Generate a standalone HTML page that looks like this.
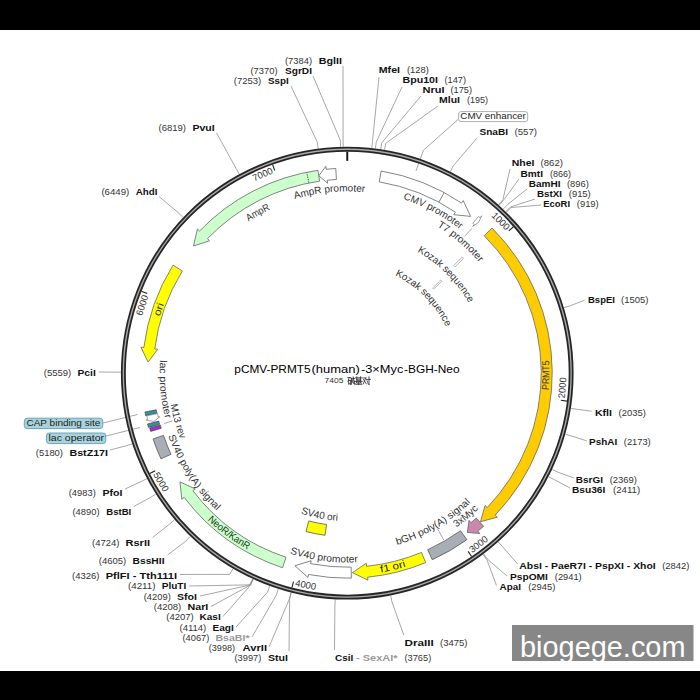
<!DOCTYPE html>
<html><head><meta charset="utf-8"><style>
html,body{margin:0;padding:0;background:#fff;width:700px;height:700px;overflow:hidden}
svg{display:block}
text{font-family:"Liberation Sans",sans-serif}
</style></head><body>
<svg width="700" height="700" viewBox="0 0 700 700" font-family="Liberation Sans, sans-serif"><rect x="0" y="0" width="700" height="700" fill="#fff"/>
<rect x="0" y="0" width="700" height="30" fill="#000"/>
<rect x="0" y="671" width="700" height="29" fill="#000"/>
<polyline points="343,66 343.1,140.24 343.21,146.74" fill="none" stroke="#8a8a8a" stroke-width="0.75"/>
<polyline points="313,76 340.33,140.3 340.52,146.8" fill="none" stroke="#8a8a8a" stroke-width="0.75"/>
<polyline points="291,86 317.28,142.14 318.12,148.58" fill="none" stroke="#8a8a8a" stroke-width="0.75"/>
<polyline points="216.5,133 236.11,168.41 239.21,174.13" fill="none" stroke="#8a8a8a" stroke-width="0.75"/>
<polyline points="159,196.5 178.3,212.74 183.02,217.22" fill="none" stroke="#8a8a8a" stroke-width="0.75"/>
<polyline points="98.75,372 114.25,372.16 120.75,372.19" fill="none" stroke="#8a8a8a" stroke-width="0.75"/>
<polyline points="110,450 125.87,445.86 132.04,443.83" fill="none" stroke="#8a8a8a" stroke-width="0.75"/>
<polyline points="125,489 141.04,481.68 146.8,478.65" fill="none" stroke="#8a8a8a" stroke-width="0.75"/>
<polyline points="133.75,506.5 150.24,497.6 155.73,494.13" fill="none" stroke="#8a8a8a" stroke-width="0.75"/>
<polyline points="152.5,537.5 169.65,524.02 174.61,519.82" fill="none" stroke="#8a8a8a" stroke-width="0.75"/>
<polyline points="167.5,555 185.76,541.16 190.26,536.47" fill="none" stroke="#8a8a8a" stroke-width="0.75"/>
<polyline points="180,574.5 229.65,574.35 232.93,568.74" fill="none" stroke="#8a8a8a" stroke-width="0.75"/>
<polyline points="189,586 249.81,584.85 252.53,578.94" fill="none" stroke="#8a8a8a" stroke-width="0.75"/>
<polyline points="200,596 250.17,585.01 252.88,579.1" fill="none" stroke="#8a8a8a" stroke-width="0.75"/>
<polyline points="211,606.5 250.35,585.09 253.05,579.18" fill="none" stroke="#8a8a8a" stroke-width="0.75"/>
<polyline points="223,616.5 250.53,585.18 253.23,579.26" fill="none" stroke="#8a8a8a" stroke-width="0.75"/>
<polyline points="236,627 267.54,592.14 269.76,586.03" fill="none" stroke="#8a8a8a" stroke-width="0.75"/>
<polyline points="252,637 276.33,595.14 278.31,588.95" fill="none" stroke="#8a8a8a" stroke-width="0.75"/>
<polyline points="269,647 289.44,598.91 291.05,592.62" fill="none" stroke="#8a8a8a" stroke-width="0.75"/>
<polyline points="289,651 289.63,598.96 291.24,592.67" fill="none" stroke="#8a8a8a" stroke-width="0.75"/>
<polyline points="379,77 372.51,141.57 371.8,148.03" fill="none" stroke="#8a8a8a" stroke-width="0.75"/>
<polyline points="402,87 376.24,142.01 375.43,148.46" fill="none" stroke="#8a8a8a" stroke-width="0.75"/>
<polyline points="421,96 381.72,142.76 380.76,149.19" fill="none" stroke="#8a8a8a" stroke-width="0.75"/>
<polyline points="438,106 385.63,143.38 384.56,149.79" fill="none" stroke="#8a8a8a" stroke-width="0.75"/>
<polyline points="477,138 453.32,165.74 450.36,171.53" fill="none" stroke="#8a8a8a" stroke-width="0.75"/>
<polyline points="510,169 502.88,199.79 498.53,204.63" fill="none" stroke="#8a8a8a" stroke-width="0.75"/>
<polyline points="519,179 503.46,200.32 499.11,205.15" fill="none" stroke="#8a8a8a" stroke-width="0.75"/>
<polyline points="527,189 507.81,204.36 503.33,209.07" fill="none" stroke="#8a8a8a" stroke-width="0.75"/>
<polyline points="535,199 510.51,206.97 505.96,211.6" fill="none" stroke="#8a8a8a" stroke-width="0.75"/>
<polyline points="541,205 511.08,207.52 506.51,212.14" fill="none" stroke="#8a8a8a" stroke-width="0.75"/>
<polyline points="584.6,300.2 570.27,305.73 564.04,307.61" fill="none" stroke="#8a8a8a" stroke-width="0.75"/>
<polyline points="591.6,411.2 577.42,409.38 571,408.37" fill="none" stroke="#8a8a8a" stroke-width="0.75"/>
<polyline points="586.7,440.8 571.62,436.02 565.36,434.27" fill="none" stroke="#8a8a8a" stroke-width="0.75"/>
<polyline points="574,478 558.13,472.3 552.24,469.53" fill="none" stroke="#8a8a8a" stroke-width="0.75"/>
<polyline points="570,488 554.46,479.75 548.68,476.78" fill="none" stroke="#8a8a8a" stroke-width="0.75"/>
<polyline points="517.6,564 502.65,546.8 498.32,541.96" fill="none" stroke="#8a8a8a" stroke-width="0.75"/>
<polyline points="507,576 487.54,559.23 483.63,554.04" fill="none" stroke="#8a8a8a" stroke-width="0.75"/>
<polyline points="496.5,585.5 486.91,559.71 483.01,554.5" fill="none" stroke="#8a8a8a" stroke-width="0.75"/>
<polyline points="403.75,635 391.95,601.87 390.7,595.49" fill="none" stroke="#8a8a8a" stroke-width="0.75"/>
<polyline points="334.5,650 334.9,605.87 335.24,599.38" fill="none" stroke="#8a8a8a" stroke-width="0.75"/>
<polyline points="458,119.5 423.4,150.3 416,170.9" fill="none" stroke="#8a8a8a" stroke-width="0.75"/>
<polyline points="103,423 137.5,414.5" fill="none" stroke="#8a8a8a" stroke-width="0.75"/>
<polyline points="106,436 140,427.5" fill="none" stroke="#8a8a8a" stroke-width="0.75"/>
<polyline points="164,423.5 172.4,421" fill="none" stroke="#8a8a8a" stroke-width="0.75"/>
<polyline points="437.5,528.75 443.75,540" fill="none" stroke="#8a8a8a" stroke-width="0.75"/>
<polyline points="464.4,236.4 472.1,228.3" fill="none" stroke="#8a8a8a" stroke-width="0.75"/>
<circle cx="347.25" cy="373.2" r="223.9" fill="none" stroke="#262626" stroke-width="4.9"/>
<circle cx="347.25" cy="373.2" r="223.9" fill="none" stroke="#aaaaaa" stroke-width="1.35"/>
<line x1="347.25" y1="151.7" x2="347.25" y2="160.9" stroke="#1c1c1c" stroke-width="2"/>
<line x1="513.44" y1="226.77" x2="508.79" y2="230.86" stroke="#222" stroke-width="1.1"/>
<text x="0" y="0" transform="translate(500.91,220.96) rotate(45.27)" text-anchor="middle" dy="0.36em" font-size="9.5" fill="#333" font-weight="normal" textLength="21" lengthAdjust="spacingAndGlyphs">1000</text>
<line x1="566.99" y1="401.08" x2="560.84" y2="400.3" stroke="#222" stroke-width="1.1"/>
<text x="0" y="0" transform="translate(562.16,387.78) rotate(-86.12)" text-anchor="middle" dy="0.36em" font-size="9.5" fill="#333" font-weight="normal" textLength="21" lengthAdjust="spacingAndGlyphs">2000</text>
<line x1="471.6" y1="556.5" x2="468.12" y2="551.37" stroke="#222" stroke-width="1.1"/>
<text x="0" y="0" transform="translate(478.38,544.08) rotate(-37.5)" text-anchor="middle" dy="0.36em" font-size="9.5" fill="#333" font-weight="normal" textLength="21" lengthAdjust="spacingAndGlyphs">3000</text>
<line x1="291.93" y1="587.68" x2="293.48" y2="581.68" stroke="#222" stroke-width="1.1"/>
<text x="0" y="0" transform="translate(305.73,584.56) rotate(11.11)" text-anchor="middle" dy="0.36em" font-size="9.5" fill="#333" font-weight="normal" textLength="21" lengthAdjust="spacingAndGlyphs">4000</text>
<line x1="149.75" y1="473.49" x2="155.28" y2="470.68" stroke="#222" stroke-width="1.1"/>
<text x="0" y="0" transform="translate(161.22,481.78) rotate(59.73)" text-anchor="middle" dy="0.36em" font-size="9.5" fill="#333" font-weight="normal" textLength="21" lengthAdjust="spacingAndGlyphs">5000</text>
<line x1="141.44" y1="291.32" x2="147.2" y2="293.61" stroke="#222" stroke-width="1.1"/>
<text x="0" y="0" transform="translate(141.94,305.12) rotate(-71.66)" text-anchor="middle" dy="0.36em" font-size="9.5" fill="#333" font-weight="normal" textLength="21" lengthAdjust="spacingAndGlyphs">6000</text>
<line x1="272.62" y1="164.65" x2="274.71" y2="170.49" stroke="#222" stroke-width="1.1"/>
<text x="0" y="0" transform="translate(262.6,174.15) rotate(-23.04)" text-anchor="middle" dy="0.36em" font-size="9.5" fill="#333" font-weight="normal" textLength="21" lengthAdjust="spacingAndGlyphs">7000</text>
<path d="M335.81,168.52 A205,205 0 0,0 326.18,169.29 L325.87,166.3 L318.8,175.74 L327.62,183.21 L327.31,180.23 A194,194 0 0,1 336.42,179.5 Z" fill="#ffffff" stroke="#666" stroke-width="0.8" />
<path d="M318.01,170.3 A205,205 0 0,0 199.54,231.05 L197.38,228.97 L193.53,246.03 L209.62,240.76 L207.46,238.68 A194,194 0 0,1 319.58,181.18 Z" fill="#ccffcc" stroke="#666" stroke-width="0.8" />
<path d="M173.02,265.17 A205,205 0 0,0 143.87,347.51 L140.89,347.13 L148.06,362.06 L157.76,349.26 L154.78,348.89 A194,194 0 0,1 182.37,270.97 Z" fill="#ffff00" stroke="#666" stroke-width="0.8" />
<path d="M145.68,415.68 A206,206 0 0,1 144.93,411.98 L156.23,409.81 A194.5,194.5 0 0,0 156.93,413.31 Z" fill="#3a8fa0" stroke="#333" stroke-width="0.6" />
<path d="M146.73,415.82 A205,205 0 0,0 147.58,419.66 L146.12,420 L153.68,421.46 L159.76,416.83 L158.3,417.17 A194,194 0 0,1 157.49,413.53 Z" fill="#ffffff" stroke="#666" stroke-width="0.6" />
<path d="M148.5,427.38 A206,206 0 0,1 147.59,423.91 L158.73,421.08 A194.5,194.5 0 0,0 159.6,424.36 Z" fill="#3a8fa0" stroke="#333" stroke-width="0.6" />
<path d="M150.69,431.42 A205,205 0 0,1 149.71,427.98 L160.31,425.04 A194,194 0 0,0 161.24,428.3 Z" fill="#9933cc" stroke="#333" stroke-width="0.6" />
<path d="M161.01,458.86 A205,205 0 0,1 153.07,438.93 L163.49,435.4 A194,194 0 0,0 171,454.27 Z" fill="#a9aeb6" stroke="#555" stroke-width="0.8" />
<path d="M282.54,567.72 A205,205 0 0,1 184.18,497.43 L181.79,499.25 L179.94,481.86 L195.31,488.94 L192.93,490.76 A194,194 0 0,0 286.01,557.28 Z" fill="#ccffcc" stroke="#666" stroke-width="0.8" />
<path d="M351.36,578.16 A205,205 0 0,1 308.49,574.5 L307.92,577.45 L294.94,565.72 L311.13,560.75 L310.57,563.7 A194,194 0 0,0 351.14,567.16 Z" fill="#ffffff" stroke="#666" stroke-width="0.8" />
<path d="M425.7,562.6 A205,205 0 0,1 367.61,577.19 L367.91,580.17 L352.47,572.63 L366.22,563.26 L366.52,566.24 A194,194 0 0,0 421.49,552.43 Z" fill="#ffff00" stroke="#666" stroke-width="0.8" />
<path d="M466.88,539.68 A205,205 0 0,1 432.26,559.74 L427.7,549.73 A194,194 0 0,0 460.46,530.74 Z" fill="#a9aeb6" stroke="#555" stroke-width="0.8" />
<path d="M483.62,526.26 A205,205 0 0,1 477.92,531.16 L479.83,533.47 L467.31,532.53 L469,520.37 L470.91,522.68 A194,194 0 0,0 476.3,518.05 Z" fill="#cc88aa" stroke="#666" stroke-width="0.8" />
<path d="M491.95,227.99 A205,205 0 0,1 495.21,515.09 L497.38,517.17 L480.48,521.69 L485.11,505.4 L487.27,507.48 A194,194 0 0,0 484.19,235.78 Z" fill="#ffcc00" stroke="#666" stroke-width="0.8" />
<path d="M381.08,171.01 A205,205 0 0,1 461.59,203.05 L463.26,200.56 L470.62,216.42 L453.78,214.67 L455.45,212.18 A194,194 0 0,0 379.27,181.86 Z" fill="#ffffff" stroke="#666" stroke-width="0.8" />
<polyline points="438.92,202.23 444.12,192.53" fill="none" stroke="#666" stroke-width="0.8"/>
<line x1="308.81" y1="182.54" x2="306.83" y2="172.73" stroke="#222" stroke-width="0.9" stroke-dasharray="1.2,1.2"/>
<path d="M478.56,216.43 A204.5,204.5 0 0,1 480.06,217.7 L481.69,215.8 L478.59,222.37 L472.59,226.44 L474.22,224.54 A195.5,195.5 0 0,0 472.78,223.33 Z" fill="#ffffff" stroke="#666" stroke-width="0.6" />
<path d="M325.05,535.29 A163.6,163.6 0 0,1 306.01,531.52 L308.76,520.97 A152.7,152.7 0 0,0 326.53,524.49 Z" fill="#ffff00" stroke="#555" stroke-width="0.8" />
<path d="M462.26,256.98 A163.5,163.5 0 0,1 463.67,258.4 L455.12,266.82 A151.5,151.5 0 0,0 453.81,265.51 Z" fill="#ffffff" stroke="#888" stroke-width="0.6" />
<path d="M440.75,280.02 A132,132 0 0,1 441.88,281.17 L433.64,289.19 A120.5,120.5 0 0,0 432.6,288.14 Z" fill="#ffffff" stroke="#888" stroke-width="0.6" />
<path id="tp1" d="M165.89,359.24 A181.9,181.9 0 0,1 522.45,324.28" fill="none" stroke="none"/>
<text font-size="10" fill="#333" font-weight="normal"><textPath href="#tp1" startOffset="50%" text-anchor="middle" textLength="71" lengthAdjust="spacingAndGlyphs">AmpR promoter</textPath></text>
<path id="tp2" d="M176.31,432.39 A180.9,180.9 0 0,1 487.64,259.11" fill="none" stroke="none"/>
<text font-size="10" fill="#333" font-weight="normal"><textPath href="#tp2" startOffset="50%" text-anchor="middle" textLength="25" lengthAdjust="spacingAndGlyphs">AmpR</textPath></text>
<path id="tp3" d="M253.17,545.03 A195.9,195.9 0 0,1 376.88,179.55" fill="none" stroke="none"/>
<text font-size="10" fill="#333" font-weight="normal"><textPath href="#tp3" startOffset="50%" text-anchor="middle" textLength="13" lengthAdjust="spacingAndGlyphs">ori</textPath></text>
<path id="tp4" d="M298.7,191.99 A187.6,187.6 0 0,0 330.9,560.09" fill="none" stroke="none"/>
<text font-size="10" fill="#333" font-weight="normal"><textPath href="#tp4" startOffset="50%" text-anchor="middle" textLength="59" lengthAdjust="spacingAndGlyphs">lac promoter</textPath></text>
<path id="tp5" d="M269.13,211.59 A179.5,179.5 0 0,0 365.39,551.78" fill="none" stroke="none"/>
<text font-size="10" fill="#333" font-weight="normal"><textPath href="#tp5" startOffset="50%" text-anchor="middle" textLength="36" lengthAdjust="spacingAndGlyphs">M13 rev</textPath></text>
<path id="tp6" d="M218.19,234.31 A189.6,189.6 0 0,0 421.03,547.86" fill="none" stroke="none"/>
<text font-size="10" fill="#333" font-weight="normal"><textPath href="#tp6" startOffset="50%" text-anchor="middle" textLength="90" lengthAdjust="spacingAndGlyphs">SV40 poly(A) signal</textPath></text>
<path id="tp7" d="M165.94,282.8 A202.6,202.6 0 0,0 486.71,520.16" fill="none" stroke="none"/>
<text font-size="10" fill="#1a3a1a" font-weight="normal"><textPath href="#tp7" startOffset="50%" text-anchor="middle" textLength="50" lengthAdjust="spacingAndGlyphs">NeoR/KanR</textPath></text>
<path id="tp8" d="M158.18,382.45 A189.3,189.3 0 0,0 528.08,429.18" fill="none" stroke="none"/>
<text font-size="10" fill="#333" font-weight="normal"><textPath href="#tp8" startOffset="50%" text-anchor="middle" textLength="69" lengthAdjust="spacingAndGlyphs">SV40 promoter</textPath></text>
<path id="tp9" d="M199.37,370.62 A147.9,147.9 0 0,0 485.33,426.2" fill="none" stroke="none"/>
<text font-size="10" fill="#333" font-weight="normal"><textPath href="#tp9" startOffset="50%" text-anchor="middle" textLength="38" lengthAdjust="spacingAndGlyphs">SV40 ori</textPath></text>
<path id="tp10" d="M161.49,452.82 A202.1,202.1 0 0,0 549.03,361.92" fill="none" stroke="none"/>
<text font-size="10" fill="#222" font-weight="normal"><textPath href="#tp10" startOffset="50%" text-anchor="middle" textLength="26" lengthAdjust="spacingAndGlyphs">f1 ori</textPath></text>
<path id="tp11" d="M210.08,487.89 A178.8,178.8 0 0,0 515.37,312.34" fill="none" stroke="none"/>
<text font-size="10" fill="#333" font-weight="normal"><textPath href="#tp11" startOffset="50%" text-anchor="middle" textLength="86" lengthAdjust="spacingAndGlyphs">bGH poly(A) signal</textPath></text>
<path id="tp12" d="M224.82,517.05 A188.9,188.9 0 0,0 511.5,279.89" fill="none" stroke="none"/>
<text font-size="10" fill="#333" font-weight="normal"><textPath href="#tp12" startOffset="50%" text-anchor="middle" textLength="29" lengthAdjust="spacingAndGlyphs">3xMyc</textPath></text>
<path id="tp13" d="M380.26,572.59 A202.1,202.1 0 0,0 384.43,174.55" fill="none" stroke="none"/>
<text font-size="10" fill="#333" font-weight="normal"><textPath href="#tp13" startOffset="50%" text-anchor="middle" textLength="30" lengthAdjust="spacingAndGlyphs">PRMT5</textPath></text>
<path id="tp14" d="M203.01,260.91 A182.8,182.8 0 0,1 521.2,429.38" fill="none" stroke="none"/>
<text font-size="10" fill="#333" font-weight="normal"><textPath href="#tp14" startOffset="50%" text-anchor="middle" textLength="65" lengthAdjust="spacingAndGlyphs">CMV promoter</textPath></text>
<path id="tp15" d="M238.18,239.94 A172.2,172.2 0 0,1 495.32,461.12" fill="none" stroke="none"/>
<text font-size="10" fill="#333" font-weight="normal"><textPath href="#tp15" startOffset="50%" text-anchor="middle" textLength="56" lengthAdjust="spacingAndGlyphs">T7 promoter</textPath></text>
<path id="tp16" d="M266.72,258.19 A140.4,140.4 0 0,1 462.26,453.73" fill="none" stroke="none"/>
<text font-size="10" fill="#333" font-weight="normal"><textPath href="#tp16" startOffset="50%" text-anchor="middle" textLength="74" lengthAdjust="spacingAndGlyphs">Kozak sequence</textPath></text>
<path id="tp17" d="M285.41,283.56 A108.9,108.9 0 0,1 436.02,436.28" fill="none" stroke="none"/>
<text font-size="10" fill="#333" font-weight="normal"><textPath href="#tp17" startOffset="50%" text-anchor="middle" textLength="74" lengthAdjust="spacingAndGlyphs">Kozak sequence</textPath></text>
<text x="318.75" y="63.7" font-size="9.8" fill="#111" font-weight="bold" text-anchor="start" textLength="23.25" lengthAdjust="spacingAndGlyphs">BglII</text>
<text x="285" y="63.7" font-size="9" fill="#333" font-weight="normal" text-anchor="start" textLength="27" lengthAdjust="spacingAndGlyphs">(7384)</text>
<text x="285" y="73.75" font-size="9.8" fill="#111" font-weight="bold" text-anchor="start" textLength="27" lengthAdjust="spacingAndGlyphs">SgrDI</text>
<text x="250.5" y="73.75" font-size="9" fill="#333" font-weight="normal" text-anchor="start" textLength="27" lengthAdjust="spacingAndGlyphs">(7370)</text>
<text x="268" y="83.75" font-size="9.8" fill="#111" font-weight="bold" text-anchor="start" textLength="20.75" lengthAdjust="spacingAndGlyphs">SspI</text>
<text x="233.75" y="83.75" font-size="9" fill="#333" font-weight="normal" text-anchor="start" textLength="27.5" lengthAdjust="spacingAndGlyphs">(7253)</text>
<text x="192.4" y="131" font-size="9.8" fill="#111" font-weight="bold" text-anchor="start" textLength="22.2" lengthAdjust="spacingAndGlyphs">PvuI</text>
<text x="158.6" y="131" font-size="9" fill="#333" font-weight="normal" text-anchor="start" textLength="27.4" lengthAdjust="spacingAndGlyphs">(6819)</text>
<text x="135.7" y="195" font-size="9.8" fill="#111" font-weight="bold" text-anchor="start" textLength="21.7" lengthAdjust="spacingAndGlyphs">AhdI</text>
<text x="101.4" y="195" font-size="9" fill="#333" font-weight="normal" text-anchor="start" textLength="27.9" lengthAdjust="spacingAndGlyphs">(6449)</text>
<text x="77.5" y="376.25" font-size="9.8" fill="#111" font-weight="bold" text-anchor="start" textLength="18.25" lengthAdjust="spacingAndGlyphs">PciI</text>
<text x="43.75" y="376.25" font-size="9" fill="#333" font-weight="normal" text-anchor="start" textLength="27.5" lengthAdjust="spacingAndGlyphs">(5559)</text>
<text x="69.5" y="455.5" font-size="9.8" fill="#111" font-weight="bold" text-anchor="start" textLength="38.5" lengthAdjust="spacingAndGlyphs">BstZ17I</text>
<text x="35.75" y="455.5" font-size="9" fill="#333" font-weight="normal" text-anchor="start" textLength="27.25" lengthAdjust="spacingAndGlyphs">(5180)</text>
<text x="102.5" y="496.25" font-size="9.8" fill="#111" font-weight="bold" text-anchor="start" textLength="20" lengthAdjust="spacingAndGlyphs">PfoI</text>
<text x="68.75" y="496.25" font-size="9" fill="#333" font-weight="normal" text-anchor="start" textLength="27" lengthAdjust="spacingAndGlyphs">(4983)</text>
<text x="106.25" y="515" font-size="9.8" fill="#111" font-weight="bold" text-anchor="start" textLength="25" lengthAdjust="spacingAndGlyphs">BstBI</text>
<text x="72.5" y="515" font-size="9" fill="#333" font-weight="normal" text-anchor="start" textLength="27" lengthAdjust="spacingAndGlyphs">(4890)</text>
<text x="125.5" y="546.25" font-size="9.8" fill="#111" font-weight="bold" text-anchor="start" textLength="24.5" lengthAdjust="spacingAndGlyphs">RsrII</text>
<text x="92" y="546.25" font-size="9" fill="#333" font-weight="normal" text-anchor="start" textLength="27.5" lengthAdjust="spacingAndGlyphs">(4724)</text>
<text x="132.5" y="563.75" font-size="9.8" fill="#111" font-weight="bold" text-anchor="start" textLength="32" lengthAdjust="spacingAndGlyphs">BssHII</text>
<text x="98.75" y="563.75" font-size="9" fill="#333" font-weight="normal" text-anchor="start" textLength="27.5" lengthAdjust="spacingAndGlyphs">(4605)</text>
<text x="105.75" y="578.75" font-size="9.8" fill="#111" font-weight="bold" text-anchor="start" textLength="71.25" lengthAdjust="spacingAndGlyphs">PflFI - Tth111I</text>
<text x="72" y="578.75" font-size="9" fill="#333" font-weight="normal" text-anchor="start" textLength="27.5" lengthAdjust="spacingAndGlyphs">(4326)</text>
<text x="161.75" y="589.25" font-size="9.8" fill="#111" font-weight="bold" text-anchor="start" textLength="24.5" lengthAdjust="spacingAndGlyphs">PluTI</text>
<text x="128" y="589.25" font-size="9" fill="#333" font-weight="normal" text-anchor="start" textLength="27.5" lengthAdjust="spacingAndGlyphs">(4211)</text>
<text x="177" y="599.5" font-size="9.8" fill="#111" font-weight="bold" text-anchor="start" textLength="20" lengthAdjust="spacingAndGlyphs">SfoI</text>
<text x="143.75" y="599.5" font-size="9" fill="#333" font-weight="normal" text-anchor="start" textLength="27" lengthAdjust="spacingAndGlyphs">(4209)</text>
<text x="187.5" y="610" font-size="9.8" fill="#111" font-weight="bold" text-anchor="start" textLength="20.75" lengthAdjust="spacingAndGlyphs">NarI</text>
<text x="153.75" y="610" font-size="9" fill="#333" font-weight="normal" text-anchor="start" textLength="27.5" lengthAdjust="spacingAndGlyphs">(4208)</text>
<text x="199.5" y="620" font-size="9.8" fill="#111" font-weight="bold" text-anchor="start" textLength="21.25" lengthAdjust="spacingAndGlyphs">KasI</text>
<text x="166.25" y="620" font-size="9" fill="#333" font-weight="normal" text-anchor="start" textLength="27.5" lengthAdjust="spacingAndGlyphs">(4207)</text>
<text x="212.5" y="630.5" font-size="9.8" fill="#111" font-weight="bold" text-anchor="start" textLength="21.25" lengthAdjust="spacingAndGlyphs">EagI</text>
<text x="179.5" y="630.5" font-size="9" fill="#333" font-weight="normal" text-anchor="start" textLength="26.75" lengthAdjust="spacingAndGlyphs">(4114)</text>
<text x="215.5" y="640.5" font-size="9.8" fill="#999" font-weight="bold" text-anchor="start" textLength="34" lengthAdjust="spacingAndGlyphs">BsaBI*</text>
<text x="182.5" y="640.5" font-size="9" fill="#333" font-weight="normal" text-anchor="start" textLength="26.75" lengthAdjust="spacingAndGlyphs">(4067)</text>
<text x="242.5" y="650.5" font-size="9.8" fill="#111" font-weight="bold" text-anchor="start" textLength="24.5" lengthAdjust="spacingAndGlyphs">AvrII</text>
<text x="208.75" y="650.5" font-size="9" fill="#333" font-weight="normal" text-anchor="start" textLength="26.25" lengthAdjust="spacingAndGlyphs">(3998)</text>
<text x="268" y="661.25" font-size="9.8" fill="#111" font-weight="bold" text-anchor="start" textLength="20" lengthAdjust="spacingAndGlyphs">StuI</text>
<text x="234.5" y="661.25" font-size="9" fill="#333" font-weight="normal" text-anchor="start" textLength="26.75" lengthAdjust="spacingAndGlyphs">(3997)</text>
<text x="378.75" y="72.5" font-size="9.8" fill="#111" font-weight="bold" text-anchor="start" textLength="21.25" lengthAdjust="spacingAndGlyphs">MfeI</text>
<text x="407" y="72.5" font-size="9" fill="#333" font-weight="normal" text-anchor="start" textLength="21.75" lengthAdjust="spacingAndGlyphs">(128)</text>
<text x="402.5" y="83" font-size="9.8" fill="#111" font-weight="bold" text-anchor="start" textLength="35.5" lengthAdjust="spacingAndGlyphs">Bpu10I</text>
<text x="444.5" y="83" font-size="9" fill="#333" font-weight="normal" text-anchor="start" textLength="21.5" lengthAdjust="spacingAndGlyphs">(147)</text>
<text x="422.5" y="93" font-size="9.8" fill="#111" font-weight="bold" text-anchor="start" textLength="22" lengthAdjust="spacingAndGlyphs">NruI</text>
<text x="450.5" y="93" font-size="9" fill="#333" font-weight="normal" text-anchor="start" textLength="21.5" lengthAdjust="spacingAndGlyphs">(175)</text>
<text x="439" y="103" font-size="9.8" fill="#111" font-weight="bold" text-anchor="start" textLength="21" lengthAdjust="spacingAndGlyphs">MluI</text>
<text x="467" y="103" font-size="9" fill="#333" font-weight="normal" text-anchor="start" textLength="21" lengthAdjust="spacingAndGlyphs">(195)</text>
<text x="479.5" y="134.5" font-size="9.8" fill="#111" font-weight="bold" text-anchor="start" textLength="28.5" lengthAdjust="spacingAndGlyphs">SnaBI</text>
<text x="514.5" y="134.5" font-size="9" fill="#333" font-weight="normal" text-anchor="start" textLength="22.5" lengthAdjust="spacingAndGlyphs">(557)</text>
<text x="511.75" y="166.25" font-size="9.8" fill="#111" font-weight="bold" text-anchor="start" textLength="22.75" lengthAdjust="spacingAndGlyphs">NheI</text>
<text x="540.5" y="166.25" font-size="9" fill="#333" font-weight="normal" text-anchor="start" textLength="22.5" lengthAdjust="spacingAndGlyphs">(862)</text>
<text x="520.5" y="176.5" font-size="9.8" fill="#111" font-weight="bold" text-anchor="start" textLength="22.5" lengthAdjust="spacingAndGlyphs">BmtI</text>
<text x="550" y="176.5" font-size="9" fill="#333" font-weight="normal" text-anchor="start" textLength="21" lengthAdjust="spacingAndGlyphs">(866)</text>
<text x="528.75" y="186.5" font-size="9.8" fill="#111" font-weight="bold" text-anchor="start" textLength="31.75" lengthAdjust="spacingAndGlyphs">BamHI</text>
<text x="567" y="186.5" font-size="9" fill="#333" font-weight="normal" text-anchor="start" textLength="21.75" lengthAdjust="spacingAndGlyphs">(896)</text>
<text x="537" y="197" font-size="9.8" fill="#111" font-weight="bold" text-anchor="start" textLength="25" lengthAdjust="spacingAndGlyphs">BstXI</text>
<text x="568.75" y="197" font-size="9" fill="#333" font-weight="normal" text-anchor="start" textLength="22" lengthAdjust="spacingAndGlyphs">(915)</text>
<text x="543.25" y="207" font-size="9.8" fill="#111" font-weight="bold" text-anchor="start" textLength="26.75" lengthAdjust="spacingAndGlyphs">EcoRI</text>
<text x="576.75" y="207" font-size="9" fill="#333" font-weight="normal" text-anchor="start" textLength="22" lengthAdjust="spacingAndGlyphs">(919)</text>
<text x="588" y="303.1" font-size="9.8" fill="#111" font-weight="bold" text-anchor="start" textLength="26.9" lengthAdjust="spacingAndGlyphs">BspEI</text>
<text x="621.1" y="303.1" font-size="9" fill="#333" font-weight="normal" text-anchor="start" textLength="27.4" lengthAdjust="spacingAndGlyphs">(1505)</text>
<text x="594.9" y="415.5" font-size="9.8" fill="#111" font-weight="bold" text-anchor="start" textLength="17.1" lengthAdjust="spacingAndGlyphs">KflI</text>
<text x="618.5" y="415.5" font-size="9" fill="#333" font-weight="normal" text-anchor="start" textLength="27.3" lengthAdjust="spacingAndGlyphs">(2035)</text>
<text x="589" y="445" font-size="9.8" fill="#111" font-weight="bold" text-anchor="start" textLength="28.2" lengthAdjust="spacingAndGlyphs">PshAI</text>
<text x="623.8" y="445" font-size="9" fill="#333" font-weight="normal" text-anchor="start" textLength="26.9" lengthAdjust="spacingAndGlyphs">(2173)</text>
<text x="575.8" y="482.5" font-size="9.8" fill="#111" font-weight="bold" text-anchor="start" textLength="27.2" lengthAdjust="spacingAndGlyphs">BsrGI</text>
<text x="609.7" y="482.5" font-size="9" fill="#333" font-weight="normal" text-anchor="start" textLength="27.3" lengthAdjust="spacingAndGlyphs">(2369)</text>
<text x="571.9" y="492.7" font-size="9.8" fill="#111" font-weight="bold" text-anchor="start" textLength="33.5" lengthAdjust="spacingAndGlyphs">Bsu36I</text>
<text x="613" y="492.7" font-size="9" fill="#333" font-weight="normal" text-anchor="start" textLength="27.2" lengthAdjust="spacingAndGlyphs">(2411)</text>
<text x="519.3" y="569" font-size="9.8" fill="#111" font-weight="bold" text-anchor="start" textLength="136.4" lengthAdjust="spacingAndGlyphs">AbsI - PaeR7I - PspXI - XhoI</text>
<text x="662.2" y="569" font-size="9" fill="#333" font-weight="normal" text-anchor="start" textLength="27.3" lengthAdjust="spacingAndGlyphs">(2842)</text>
<text x="510" y="579.5" font-size="9.8" fill="#111" font-weight="bold" text-anchor="start" textLength="37.9" lengthAdjust="spacingAndGlyphs">PspOMI</text>
<text x="554.8" y="579.5" font-size="9" fill="#333" font-weight="normal" text-anchor="start" textLength="26.9" lengthAdjust="spacingAndGlyphs">(2941)</text>
<text x="499.6" y="589.7" font-size="9.8" fill="#111" font-weight="bold" text-anchor="start" textLength="21.4" lengthAdjust="spacingAndGlyphs">ApaI</text>
<text x="528.2" y="589.7" font-size="9" fill="#333" font-weight="normal" text-anchor="start" textLength="27.2" lengthAdjust="spacingAndGlyphs">(2945)</text>
<text x="404.5" y="645.75" font-size="9.8" fill="#111" font-weight="bold" text-anchor="start" textLength="29.25" lengthAdjust="spacingAndGlyphs">DraIII</text>
<text x="440" y="645.75" font-size="9" fill="#333" font-weight="normal" text-anchor="start" textLength="27.5" lengthAdjust="spacingAndGlyphs">(3475)</text>
<text x="335" y="661.25" font-size="9.8" fill="#111" font-weight="bold" text-anchor="start" textLength="18.25" lengthAdjust="spacingAndGlyphs">CsiI</text>
<text x="356" y="661.25" font-size="9.8" fill="#999" font-weight="bold" text-anchor="start" textLength="41.5" lengthAdjust="spacingAndGlyphs">- SexAI*</text>
<text x="404.5" y="661.25" font-size="9.5" fill="#333" font-weight="normal" text-anchor="start" textLength="26.75" lengthAdjust="spacingAndGlyphs">(3765)</text>
<rect x="458.6" y="111.6" width="69.1" height="10" rx="2.5" fill="#fff" stroke="#999" stroke-width="0.8"/>
<text x="460.3" y="119.3" font-size="9.5" fill="#222" font-weight="normal" text-anchor="start" textLength="65.5" lengthAdjust="spacingAndGlyphs">CMV enhancer</text>
<rect x="24.3" y="418.2" width="78.5" height="10.4" rx="3" fill="#a9d2dc" stroke="#5a9fb0" stroke-width="0.9"/>
<text x="26.4" y="426.2" font-size="9.5" fill="#222" font-weight="normal" text-anchor="start" textLength="73.9" lengthAdjust="spacingAndGlyphs">CAP binding site</text>
<rect x="46.4" y="433" width="59.4" height="10.6" rx="3" fill="#a9d2dc" stroke="#5a9fb0" stroke-width="0.9"/>
<text x="48.5" y="441" font-size="9.5" fill="#222" font-weight="normal" text-anchor="start" textLength="55.5" lengthAdjust="spacingAndGlyphs">lac operator</text>
<text x="234.3" y="372.8" font-size="10.5" fill="#000" font-weight="normal" text-anchor="start" textLength="76.3" lengthAdjust="spacingAndGlyphs">pCMV-PRMT5</text>
<text x="311.4" y="372.8" font-size="10.5" fill="#000" font-weight="normal" text-anchor="start" textLength="48.4" lengthAdjust="spacingAndGlyphs">(human)</text>
<text x="361" y="372.8" font-size="10.5" fill="#000" font-weight="normal" text-anchor="start" textLength="42.3" lengthAdjust="spacingAndGlyphs">-3×Myc</text>
<text x="404" y="372.8" font-size="10.5" fill="#000" font-weight="normal" text-anchor="start" textLength="55.5" lengthAdjust="spacingAndGlyphs">-BGH-Neo</text>
<text x="324.6" y="383.4" font-size="7.5" fill="#333" font-weight="normal" text-anchor="start" textLength="18.8" lengthAdjust="spacingAndGlyphs">7405</text>
<path d="M347.8,377.6 L350.6,377.6 M349.2,377.6 L348,381.3 M348.7,380.4 L350.6,380.4 M348.7,380.4 L348.7,384.1 M350.6,380.4 L350.6,384.1 M348.7,383.8 L350.6,383.8 M351.2,378.4 L354.6,378.4 M351.6,378.4 L351.3,384.4 M352.1,380 L353.4,380 M352.1,382 L353.4,382 M352.1,380 L352.1,382 M353.2,377 L354.7,384.4 M354.6,381.3 L353.6,383.6" stroke="#333" stroke-width="0.85" fill="none" stroke-linecap="square"/>
<path d="M356.8,376.8 L356.8,381.4 M360.6,376.8 L360.6,381.4 M355.5,377.8 L361.9,377.8 M356.8,379.1 L360.6,379.1 M356.8,380.3 L360.6,380.3 M355.2,381.4 L362.2,381.4 M358,381.4 L355.8,383.1 M359.4,381.4 L361.6,383.1 M358.7,382.1 L358.7,384.3 M357,383 L360.4,383 M355.8,384.3 L361.6,384.3" stroke="#333" stroke-width="0.85" fill="none" stroke-linecap="square"/>
<path d="M363,378 L365.8,378 M365.8,378 L363.2,384 M363.6,379.6 L366.2,383.8 M366.4,379.4 L370.4,379.4 M369,376.8 L369,384.4 M369,384.4 L368,383.8 M367.1,380.8 L367.7,382.4" stroke="#333" stroke-width="0.85" fill="none" stroke-linecap="square"/>
<rect x="512" y="625" width="181.5" height="36" fill="#878787"/>
<text x="520" y="656.5" font-size="29" fill="#fff" font-weight="normal" text-anchor="start" textLength="165.5" lengthAdjust="spacingAndGlyphs">biogege.com</text></svg>
</body></html>
